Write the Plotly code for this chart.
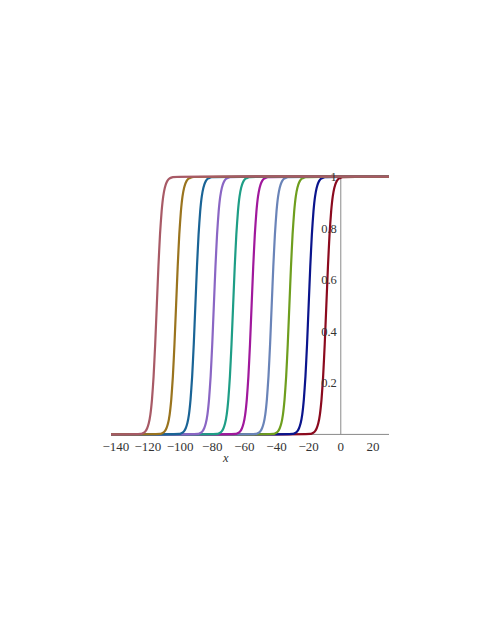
import plotly.graph_objects as go

# centres of the ten fronts (value 0.5), right to left
centers = [-9, -20, -32, -43, -55.5, -67, -79, -90.5, -102.5, -114.5]
colors = ["#8B0A1E", "#0A148C", "#6E9E1E", "#6A84B8", "#A0189C",
          "#1E9E86", "#8A66C4", "#1A6496", "#9A741E", "#A85A66"]

# shape of one front: offset from centre -> value (same for every curve)
offsets = [-10, -9, -8, -7, -6, -5, -4, -3, -2, -1, 0, 1, 2, 3, 4, 5, 6, 7, 8, 9, 10]
profile = [0.002, 0.004, 0.007, 0.013, 0.024, 0.043, 0.077, 0.135, 0.224, 0.35, 0.5,
           0.65, 0.776, 0.865, 0.923, 0.957, 0.976, 0.987, 0.993, 0.996, 0.998]

x_min, x_max = -143, 30
xticks = [-140, -120, -100, -80, -60, -40, -20, 0, 20]
yticks = [0.2, 0.4, 0.6, 0.8, 1]
ytext = ["0.2", "0.4", "0.6", "0.8", "1"]

fig = go.Figure()
for c, col in zip(centers, colors):
    xs = [x_min] + [c + o for o in offsets] + [x_max]
    ys = [0] + profile + [1]
    fig.add_scatter(x=xs, y=ys, mode="lines", line=dict(color=col, width=2.2, shape="spline", smoothing=0.5),
                    showlegend=False, hoverinfo="skip")

# axes through the origin
fig.add_shape(type="line", x0=x_min, x1=x_max, y0=0, y1=0, line=dict(color="#8a8a8a", width=1), layer="below")
fig.add_shape(type="line", x0=0, x1=0, y0=0, y1=1, line=dict(color="#8a8a8a", width=1), layer="below")

serif = "Liberation Serif, Times New Roman, serif"
fig.update_layout(
    width=491, height=635,
    margin=dict(l=103, r=110, t=166, b=206),
    plot_bgcolor="white", paper_bgcolor="white",
    font=dict(family=serif, size=12.5, color="#333"),
    xaxis=dict(range=[x_min, x_max], tickvals=xticks,
               ticktext=[("\u2212" + str(-v)) if v < 0 else str(v) for v in xticks],
               showgrid=False, zeroline=False, showline=False, ticks="", tickfont=dict(size=13)),
    yaxis=dict(range=[-0.01, 1.01], tickvals=yticks, ticktext=ytext,
               anchor="free", position=(0 - x_min) / (x_max - x_min), side="left",
               ticklabelstandoff=4,
               showgrid=False, zeroline=False, showline=False, ticks="", tickfont=dict(size=12.5)),
)
fig.add_annotation(x=-72, y=0, xref="x", yref="paper", yanchor="middle", yshift=-21,
                   text="<i>x</i>", showarrow=False,
                   font=dict(family=serif, size=12.5, color="#333"))

fig.write_html("out.html")
